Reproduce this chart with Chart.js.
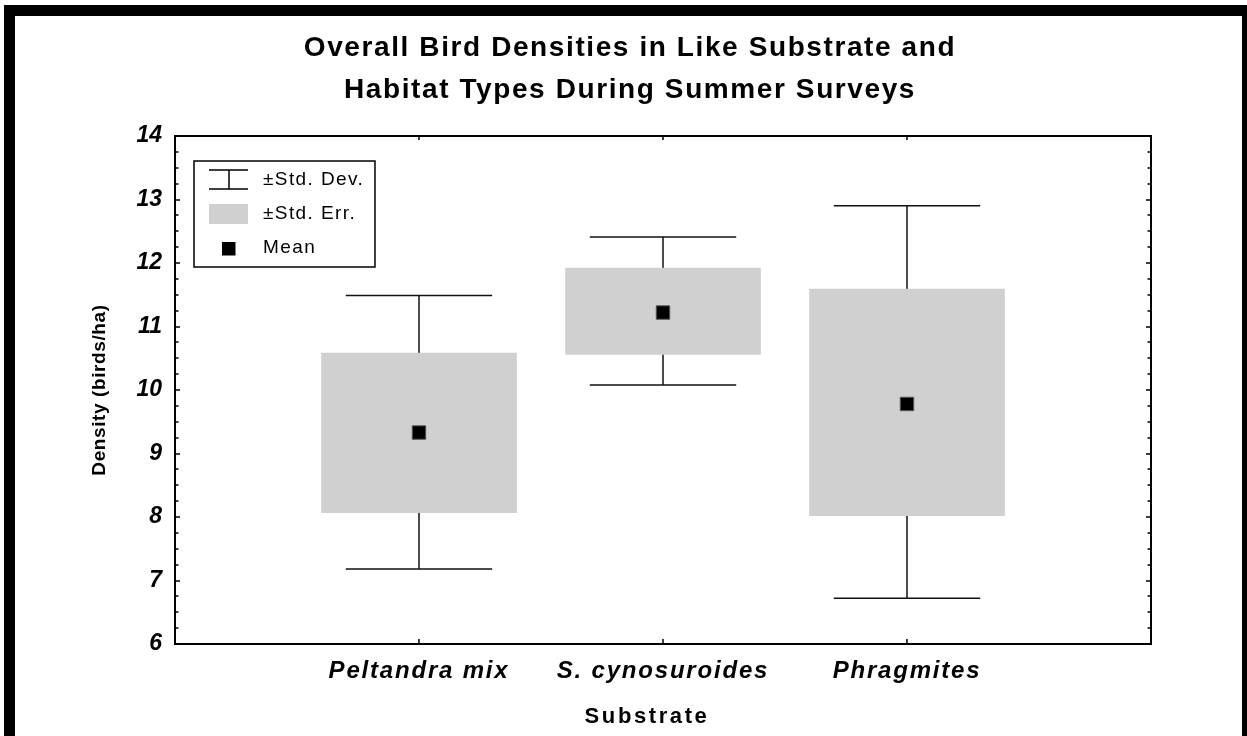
<!DOCTYPE html>
<html>
<head>
<meta charset="utf-8">
<script src="https://cdn.jsdelivr.net/npm/chart.js@4.4.1/dist/chart.umd.min.js"></script>
<style>
html,body{margin:0;padding:0;background:#fff;}
canvas{display:block;}
</style>
</head>
<body>
<canvas id="c" width="1247" height="736"></canvas>
<script>
// ---- Data ----
const titleLines = ['Overall Bird Densities in Like Substrate and', 'Habitat Types During Summer Surveys'];
const categories = ['Peltandra mix', 'S. cynosuroides', 'Phragmites'];
const means  = [9.33, 11.22, 9.78];
const seLow  = [8.07, 10.56, 8.02];
const seHigh = [10.58, 11.92, 11.59];
const sdLow  = [7.18, 10.08, 6.72];
const sdHigh = [11.49, 12.41, 12.90];
const xTitle = 'Substrate';
const yTitle = 'Density (birds/ha)';
const legendLabels = ['\u00B1Std. Dev.', '\u00B1Std. Err.', 'Mean'];

// ---- Build library data ----
const FONT = "'Liberation Sans', Arial, Helvetica, sans-serif";
const xPos = categories.map((_, i) => i + 1);
const CAP = 0.3; // whisker cap half-width in x units
const whiskerData = [];
xPos.forEach((x, i) => {
  whiskerData.push(
    {x: x, y: sdLow[i]}, {x: x, y: sdHigh[i]}, {x: x, y: null},
    {x: x - CAP, y: sdHigh[i]}, {x: x + CAP, y: sdHigh[i]}, {x: x, y: null},
    {x: x - CAP, y: sdLow[i]}, {x: x + CAP, y: sdLow[i]}, {x: x, y: null}
  );
});

function withSpacing(obj, method, sp, dx) {
  if (!obj || obj['__w_' + method]) return;
  const orig = obj[method];
  obj[method] = function (...args) {
    const ctx = this.ctx;
    const prev = ctx.letterSpacing;
    ctx.save();
    if (dx) ctx.translate(dx, 0);
    ctx.letterSpacing = sp;
    try { return orig.apply(this, args); } finally { ctx.restore(); ctx.letterSpacing = prev || '0px'; }
  };
  obj['__w_' + method] = true;
}

const framePlugin = {
  id: 'frame',
  afterUpdate(chart) {
    withSpacing(chart.titleBlock, 'draw', '1.6px');
    withSpacing(chart.scales.x, 'drawLabels', '1.8px');
    withSpacing(chart.scales.x, 'drawTitle', '2.6px', -16);
    withSpacing(chart.scales.y, 'drawTitle', '0.6px');
  },
  beforeDraw(chart) {
    const ctx = chart.ctx, W = chart.width, H = chart.height;
    ctx.save();
    ctx.fillStyle = '#fff';
    ctx.fillRect(0, 0, W, H);
    ctx.fillStyle = '#000';
    ctx.fillRect(4, 5, W - 4, 11);
    ctx.fillRect(4, 5, 11, H - 5);
    ctx.fillRect(W - 5, 5, 5, H - 5);
    ctx.restore();
  },
  afterDraw(chart) {
    const {ctx, chartArea: a, scales: {x, y}} = chart;
    ctx.save();
    ctx.strokeStyle = '#000';
    ctx.lineWidth = 2;
    ctx.strokeRect(a.left, a.top, a.right - a.left, a.bottom - a.top);
    ctx.lineWidth = 1.5;
    ctx.beginPath();
    for (let v = y.min; v <= y.max + 1e-9; v += 0.25) {
      const py = Math.round(y.getPixelForValue(v));
      const major = Math.abs(v - Math.round(v)) < 1e-6;
      const L = major ? 5 : 3.5;
      ctx.moveTo(a.left, py); ctx.lineTo(a.left + L, py);
      ctx.moveTo(a.right, py); ctx.lineTo(a.right - L, py);
    }
    xPos.forEach(v => {
      const px = Math.round(x.getPixelForValue(v));
      ctx.moveTo(px, a.bottom); ctx.lineTo(px, a.bottom - 5);
      ctx.moveTo(px, a.top); ctx.lineTo(px, a.top + 4);
    });
    ctx.stroke();

    // legend
    const lx = a.left + 19, ly = a.top + 25;
    ctx.lineWidth = 1.5;
    ctx.strokeRect(lx, ly, 181, 106);
    ctx.beginPath();
    ctx.moveTo(lx + 15, ly + 9); ctx.lineTo(lx + 54, ly + 9);
    ctx.moveTo(lx + 15, ly + 28); ctx.lineTo(lx + 54, ly + 28);
    ctx.moveTo(lx + 35, ly + 9); ctx.lineTo(lx + 35, ly + 28);
    ctx.stroke();
    ctx.fillStyle = '#d0d0d0';
    ctx.fillRect(lx + 15, ly + 43, 39, 20);
    ctx.fillStyle = '#000';
    ctx.fillRect(lx + 28, ly + 81, 13.5, 13.5);
    ctx.font = '19px ' + FONT;
    ctx.letterSpacing = '1.4px';
    ctx.textBaseline = 'middle';
    ctx.textAlign = 'left';
    const ys = [ly + 19, ly + 53, ly + 87];
    legendLabels.forEach((t, i) => ctx.fillText(t, lx + 69, ys[i]));
    ctx.restore();
  }
};

new Chart(document.getElementById('c'), {
  type: 'bar',
  data: {
    datasets: [
      {
        type: 'scatter', label: legendLabels[2],
        data: xPos.map((x, i) => ({x: x, y: means[i]})),
        pointStyle: 'rect', pointRadius: 9.5, pointHoverRadius: 9.5,
        pointBackgroundColor: '#000', pointBorderColor: '#555', pointBorderWidth: 1,
        order: 0
      },
      {
        type: 'bar', label: legendLabels[1],
        data: xPos.map((x, i) => ({x: x, y: [seLow[i], seHigh[i]]})),
        backgroundColor: '#d0d0d0', borderWidth: 0, barThickness: 195,
        order: 1
      },
      {
        type: 'line', label: legendLabels[0],
        data: whiskerData,
        borderColor: '#111', borderWidth: 1.5, pointRadius: 0, pointHoverRadius: 0,
        fill: false, spanGaps: false, tension: 0,
        order: 2
      }
    ]
  },
  options: {
    responsive: false,
    animation: false,
    devicePixelRatio: 1,
    layout: {padding: {left: 13, right: 0, top: 0, bottom: 0}},
    plugins: {
      legend: {display: false},
      tooltip: {enabled: false},
      title: {
        display: true, text: titleLines, color: '#000',
        font: {family: FONT, size: 28, weight: 'bold', lineHeight: 42 / 28},
        padding: {top: 27, bottom: 25}
      }
    },
    scales: {
      x: {
        type: 'linear', position: 'bottom', min: 0, max: 4, offset: false,
        grid: {display: false, drawTicks: false},
        border: {display: false},
        afterBuildTicks(s) { s.ticks = xPos.map(v => ({value: v})); },
        ticks: {
          callback: (v) => categories[v - 1] ?? '',
          color: '#000', padding: 13, maxRotation: 0, autoSkip: false,
          font: {family: FONT, size: 24, weight: 'bold', style: 'italic'}
        },
        title: {
          display: true, text: xTitle, color: '#000',
          font: {family: FONT, size: 22, weight: 'bold'},
          padding: {top: 0, bottom: 6}
        },
        afterFit(s) { s.height = 92; }
      },
      y: {
        type: 'linear', position: 'left', min: 6, max: 14,
        grid: {display: false, drawTicks: false},
        border: {display: false},
        ticks: {
          stepSize: 1, color: '#000', padding: 13,
          font: {family: FONT, size: 23, weight: 'bold', style: 'italic'}
        },
        title: {
          display: true, text: yTitle, color: '#000',
          font: {family: FONT, size: 19, weight: 'bold'},
          padding: {top: 75, bottom: 0}
        },
        afterFit(s) { s.width = 162; }
      },
      yRight: {
        type: 'linear', position: 'right', min: 6, max: 14,
        grid: {display: false, drawTicks: false},
        border: {display: false},
        ticks: {display: false},
        afterFit(s) { s.width = 96; }
      }
    }
  },
  plugins: [framePlugin]
});
</script>
</body>
</html>
